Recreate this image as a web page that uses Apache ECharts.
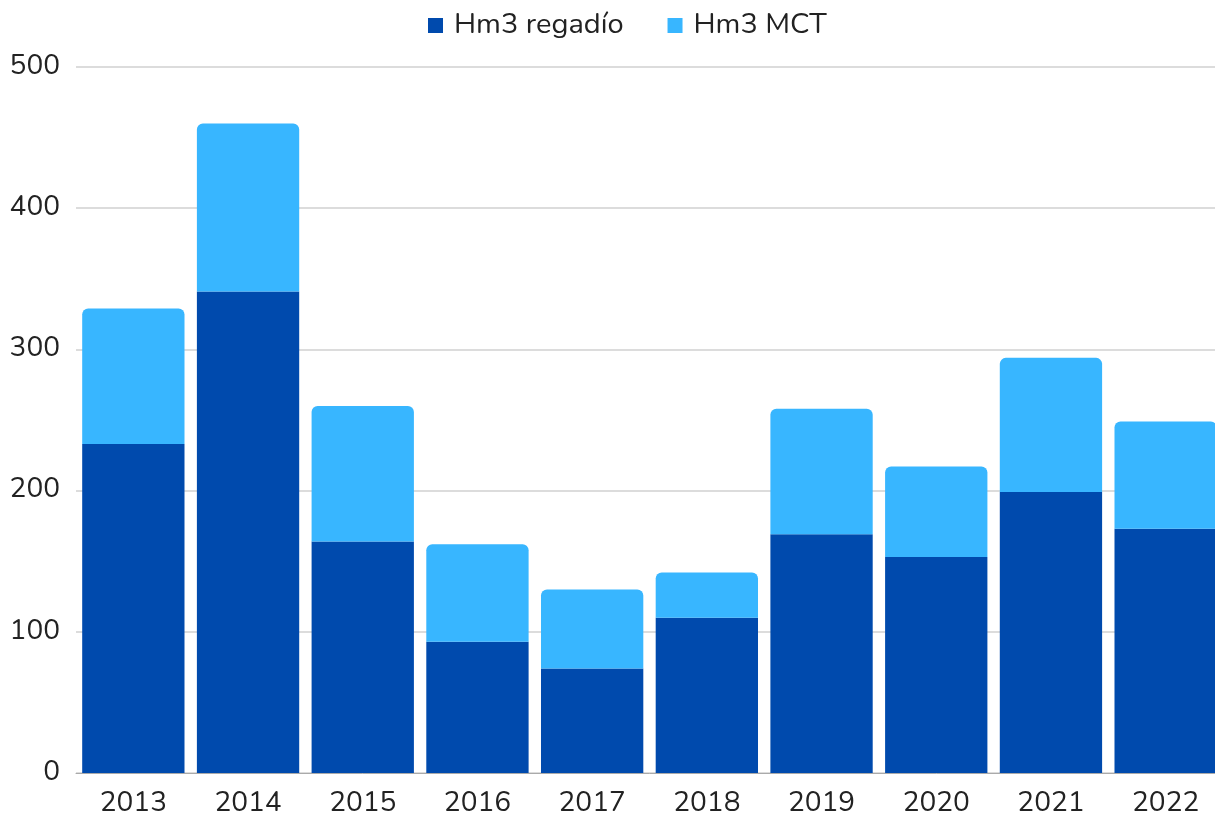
<!DOCTYPE html>
<html>
<head>
<meta charset="utf-8">
<script src="https://cdn.jsdelivr.net/npm/echarts@6/dist/echarts.min.js"></script>
<style>
  html, body { margin: 0; padding: 0; background: #fff; overflow: hidden; }
  /* the original crops the last bar at the right edge, so the canvas runs a little past the window */
  #chart { width: 1223px; height: 819px; }
</style>
</head>
<body>
<div id="chart"></div>
<script>
const years = ["2013", "2014", "2015", "2016", "2017", "2018", "2019", "2020", "2021", "2022"];
const regadio = [233, 341, 164, 93, 74, 110, 169, 153, 199, 173];
const mct = [96, 119, 96, 69, 56, 32, 89, 64, 95, 76];

const chart = echarts.init(document.getElementById("chart"));
const font = "Nunito, Lato, 'Noto Sans', sans-serif";

chart.setOption({
  animation: false,
  textStyle: { fontFamily: font },
  legend: {
    top: 6,
    left: 423,
    itemWidth: 15,
    itemHeight: 15,
    itemGap: 44,
    icon: "rect",
    textStyle: { fontSize: 29, color: "#222", fontFamily: font, padding: [0, 0, 0, 6] },
    data: ["Hm3 regadío", "Hm3 MCT"]
  },
  grid: { left: 76, right: 0, top: 67, bottom: 46 },
  xAxis: {
    type: "category",
    data: years,
    axisTick: { show: false },
    axisLine: { lineStyle: { color: "#aaaaaa", width: 1 } },
    axisLabel: { fontSize: 28, color: "#222", margin: 17, fontFamily: font }
  },
  yAxis: {
    type: "value",
    min: 0,
    max: 500,
    interval: 100,
    axisLabel: { fontSize: 28, color: "#222", margin: 16, fontFamily: font },
    splitLine: { lineStyle: { color: "#d0d0d0", width: 1.5 } }
  },
  series: [
    {
      name: "Hm3 regadío",
      type: "bar",
      stack: "total",
      barCategoryGap: "10.8%",
      itemStyle: { color: "#004aad" },
      data: regadio
    },
    {
      name: "Hm3 MCT",
      type: "bar",
      stack: "total",
      barCategoryGap: "10.8%",
      itemStyle: { color: "#38b6ff", borderRadius: [6, 6, 0, 0] },
      data: mct
    }
  ]
});
</script>
</body>
</html>
